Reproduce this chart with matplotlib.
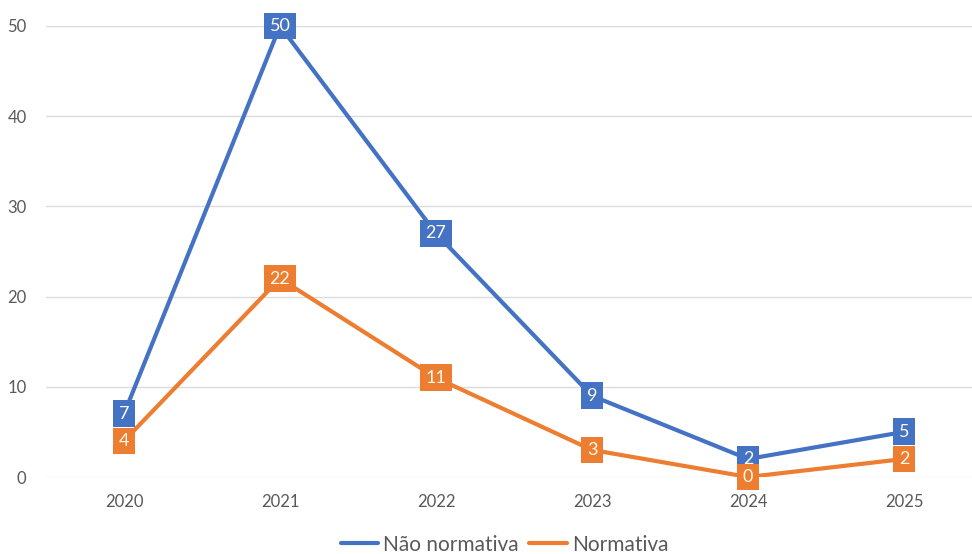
import matplotlib.pyplot as plt

years = ["2020", "2021", "2022", "2023", "2024", "2025"]
nao_normativa = [7, 50, 27, 9, 2, 5]
normativa = [4, 22, 11, 3, 0, 2]

plt.rcParams["font.family"] = ["Lato", "DejaVu Sans"]

fig = plt.figure(figsize=(9.72, 5.54), dpi=100)
ax = fig.add_axes([46 / 972, 77 / 554, 936 / 972, 451 / 554])

blue = "#4472C4"
orange = "#ED7D31"
x = list(range(len(years)))

ax.plot(x, nao_normativa, color=blue, lw=3, label="Não normativa", zorder=3, solid_capstyle="round")
ax.plot(x, normativa, color=orange, lw=3, label="Normativa", zorder=3, solid_capstyle="round")

for vals, col in [(nao_normativa, blue), (normativa, orange)]:
    for xi, v in zip(x, vals):
        ax.text(xi, v, str(v), ha="center", va="center", fontsize=13, color="#fffbe8",
                zorder=5, bbox=dict(boxstyle="square,pad=0.3", fc=col, ec="none"))

ax.set_xlim(-0.5, 5.5)
ax.set_ylim(0, 50)
ax.set_yticks(range(0, 51, 10))
ax.set_xticks(x)
ax.set_xticklabels(years)
ax.grid(axis="y", color="#dcdcdc", lw=1)
ax.set_axisbelow(True)
for s in ax.spines.values():
    s.set_visible(False)
ax.tick_params(length=0, labelsize=12, labelcolor="#595959", pad=12)
ax.tick_params(axis="y", pad=14)

ax.legend(loc="center", bbox_to_anchor=(0.49, -0.15),
          ncol=2, frameon=False, fontsize=15, handlelength=1.8, columnspacing=0.5,
          handletextpad=0.25, labelcolor="#595959")

fig.savefig("out.png", dpi=100)
